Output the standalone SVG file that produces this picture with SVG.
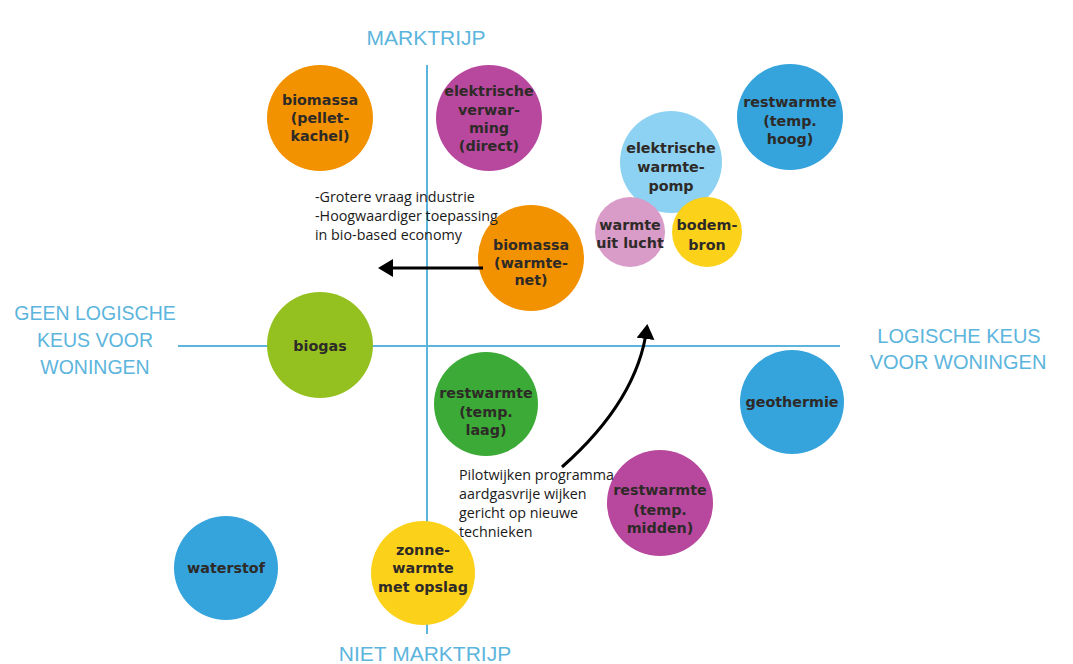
<svg xmlns="http://www.w3.org/2000/svg" width="1073" height="664" viewBox="0 0 1073 664">
<style>
.axis{stroke:#5bb5dd;stroke-width:2;fill:none}
.lbl{font-family:"Liberation Sans",Arial,sans-serif;fill:#5cb5dc;text-anchor:middle}
.n text{font-family:"DejaVu Sans",sans-serif;font-weight:bold;font-size:14.3px;fill:#2e2a28;text-anchor:middle}
.note{font-family:"Open Sans",sans-serif;font-size:14.3px;fill:#1a1a1a}
.arr{stroke:#000;stroke-width:3;fill:none}
.orange{fill:#f39200}.magenta{fill:#b8489e}.blue{fill:#35a3dc}.lblue{fill:#8dd2f2}
.pink{fill:#d99bc8}.yellow{fill:#fcd11a}.lime{fill:#94c120}.green{fill:#3caa36}
</style>
<defs>
<marker id="ah" markerWidth="6" markerHeight="6" refX="4" refY="3" orient="auto" markerUnits="strokeWidth">
<path d="M0,0 L5,3 L0,6 Z" fill="#000"/>
</marker>
</defs>
<rect width="1073" height="664" fill="#fff"/>
<g id="axes">
<line class="axis" x1="427" y1="65" x2="427" y2="634"/>
<line class="axis" x1="178" y1="346" x2="840" y2="346"/>
<text class="lbl" x="426" y="45" font-size="21">MARKTRIJP</text>
<text class="lbl" x="425" y="661" font-size="21">NIET MARKTRIJP</text>
<text class="lbl" x="95" y="320" font-size="19.5">GEEN LOGISCHE</text>
<text class="lbl" x="95" y="347" font-size="19.5">KEUS VOOR</text>
<text class="lbl" x="95" y="374" font-size="19.5">WONINGEN</text>
<text class="lbl" x="959" y="343" font-size="20">LOGISCHE KEUS</text>
<text class="lbl" x="958" y="369" font-size="20">VOOR WONINGEN</text>
</g>
<g id="n-biomassa-pellet" class="n"><circle class="orange" cx="320" cy="118" r="53"/>
<text x="320" y="105">biomassa</text><text x="320" y="123">(pellet-</text><text x="320" y="141">kachel)</text></g>
<g id="n-elek-verwarming" class="n"><circle class="magenta" cx="489" cy="118" r="53"/>
<text x="489" y="96">elektrische</text><text x="489" y="115">verwar-</text><text x="489" y="133">ming</text><text x="489" y="151">(direct)</text></g>
<g id="n-restwarmte-hoog" class="n"><circle class="blue" cx="790" cy="117" r="53"/>
<text x="790" y="107">restwarmte</text><text x="790" y="126">(temp.</text><text x="790" y="144">hoog)</text></g>
<g id="n-warmtepomp" class="n"><circle class="lblue" cx="671" cy="162" r="51"/>
<text x="671" y="153">elektrische</text><text x="671" y="172">warmte-</text><text x="671" y="191">pomp</text></g>
<g id="n-warmte-lucht" class="n"><circle class="pink" cx="630" cy="232" r="35"/>
<text x="630" y="230" font-size="13">warmte</text><text x="630" y="248" font-size="13">uit lucht</text></g>
<g id="n-bodembron" class="n"><circle class="yellow" cx="707" cy="232" r="35"/>
<text x="707" y="230">bodem-</text><text x="707" y="250">bron</text></g>
<g id="n-biomassa-warmtenet" class="n"><circle class="orange" cx="531" cy="258" r="53"/>
<text x="531" y="250">biomassa</text><text x="531" y="268">(warmte-</text><text x="531" y="285">net)</text></g>
<g id="n-biogas" class="n"><circle class="lime" cx="320" cy="345" r="53"/>
<text x="320" y="351">biogas</text></g>
<g id="n-restwarmte-laag" class="n"><circle class="green" cx="486" cy="404" r="52"/>
<text x="486" y="398">restwarmte</text><text x="486" y="417">(temp.</text><text x="486" y="435">laag)</text></g>
<g id="n-geothermie" class="n"><circle class="blue" cx="792" cy="402" r="52"/>
<text x="792" y="407">geothermie</text></g>
<g id="n-restwarmte-midden" class="n"><circle class="magenta" cx="660" cy="503" r="53"/>
<text x="660" y="495">restwarmte</text><text x="660" y="515">(temp.</text><text x="660" y="533">midden)</text></g>
<g id="n-waterstof" class="n"><circle class="blue" cx="226" cy="568" r="52"/>
<text x="226" y="573">waterstof</text></g>
<g id="n-zonnewarmte" class="n"><circle class="yellow" cx="423" cy="573" r="52"/>
<text x="423" y="555">zonne-</text><text x="423" y="573">warmte</text><text x="423" y="592">met opslag</text></g>
<g id="connectors">
<path class="arr" d="M483,268 L381,268" marker-end="url(#ah)"/>
<path class="arr" stroke-width="2.6" d="M562,467 Q638,400 647,327" marker-end="url(#ah)"/>
</g>
<g id="notes">
<text class="note" x="315" y="202">-Grotere vraag industrie</text>
<text class="note" x="315" y="221">-Hoogwaardiger toepassing</text>
<text class="note" x="315" y="240">in bio-based economy</text>
<text class="note" x="459" y="480">Pilotwijken programma</text>
<text class="note" x="459" y="499">aardgasvrije wijken</text>
<text class="note" x="459" y="518">gericht op nieuwe</text>
<text class="note" x="459" y="537">technieken</text>
</g>
</svg>
